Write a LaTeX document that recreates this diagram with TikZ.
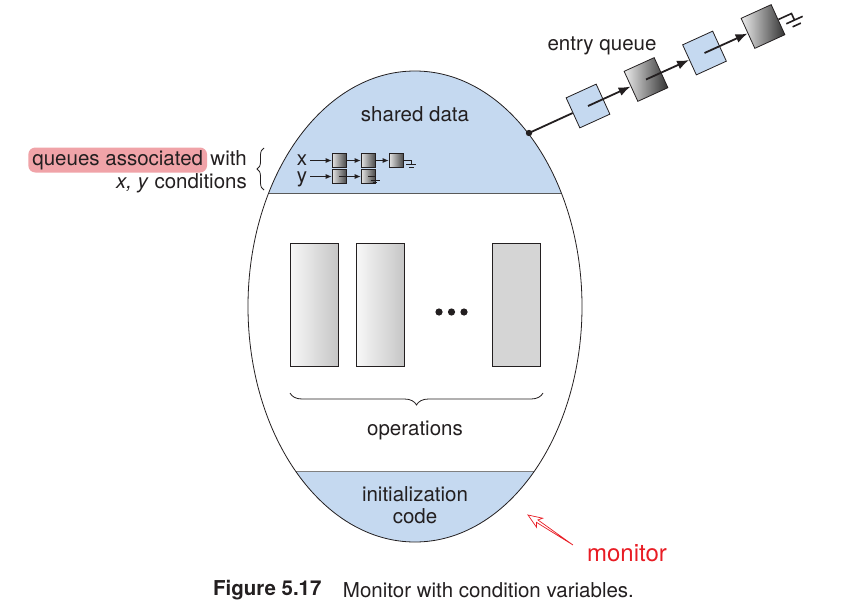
\documentclass[tikz,border=0pt]{standalone}
\usepackage{fontspec}
\setmainfont{TeX Gyre Heros}
\usetikzlibrary{positioning,arrows.meta,decorations.pathreplacing}
\definecolor{monblue}{RGB}{197,217,240}
\definecolor{hlpink}{RGB}{240,163,168}
\definecolor{monred}{RGB}{232,28,36}
\definecolor{inkgray}{RGB}{35,31,32}
\tikzset{
  lbl/.style={text=inkgray,font=\fontsize{20.5}{22}\selectfont,inner sep=0pt},
  opbox/.style={draw=inkgray,line width=0.9pt,minimum width=48pt,minimum height=123pt,inner sep=0pt},
  qbox/.style={draw=inkgray,line width=0.7pt,minimum size=14pt,inner sep=0pt,left color=gray!20,right color=black!70},
  ebox/.style={draw=inkgray,line width=0.8pt,minimum size=33pt,inner sep=0pt,rotate=24.5},
  qarrow/.style={draw=inkgray,line width=0.8pt,-{Latex[length=6pt,width=5pt]}},
  earrow/.style={draw=inkgray,line width=1.8pt,-{Latex[length=12pt,width=9pt]}},
  gnd/.pic={\draw[inkgray] (0,0) -- (8,0) -- (8,4) (3,4) -- (13,4) (5.5,7) -- (10.5,7);}
}
\begin{document}
\begin{tikzpicture}[x=1pt,y=-1pt]
\useasboundingbox (0,0) rectangle (843,613);
% monitor body
\begin{scope}
\clip (415,306.5) ellipse [x radius=167,y radius=235.5];
\fill[monblue] (240,60) rectangle (590,193);
\fill[monblue] (240,471) rectangle (590,550);
\draw[black!65,line width=0.9pt] (240,193) -- (590,193);
\draw[black!50,line width=0.9pt] (240,471) -- (590,471);
\end{scope}
\draw[inkgray,line width=0.8pt] (415,306.5) ellipse [x radius=167,y radius=235.5];
\node[lbl] (shared) at (415,114) {shared data};
\node[lbl] (ops) at (415,430) {operations};
\node[lbl,align=center] (init) at (415,505) {initialization\\code};
% operations
\node[opbox,left color=gray!6,right color=gray!45] (op1) at (314,304.5) {};
\node[opbox,left color=gray!6,right color=gray!45] (op2) at (380.5,304.5) {};
\node[opbox,fill=gray!33] (op3) at (516.5,304.5) {};
\foreach \i in {0,1,2}
  \fill[inkgray] (439+12.5*\i,312) circle (3.6);
\draw[inkgray,line width=0.8pt,decorate,decoration={brace,amplitude=12pt}] (543,393) -- (290,393);
% condition queues
\node[lbl,anchor=base] (xlbl) at (302,165.5) {x};
\node[lbl,anchor=base] (ylbl) at (302,182.5) {y};
\node[qbox] (b1) at (339,160.5) {};
\node[qbox] (b2) at (368,160.5) {};
\node[qbox] (b3) at (396,160.5) {};
\node[qbox] (c1) at (339,176.5) {};
\node[qbox] (c2) at (368,176.5) {};
\draw[qarrow,shorten <=3pt] (xlbl.east |- b1) -- (b1);
\draw[qarrow] (b1) -- (b2);
\draw[qarrow] (b2) -- (b3);
\draw[qarrow,shorten <=3pt] (ylbl.east |- c1) -- (c1);
\draw[qarrow] (c1.center) -- (c2);
\pic[line width=0.7pt] at (b3.east) {gnd};
\pic[line width=0.7pt,scale=0.9] at (c2.center) {gnd};
\node[lbl,anchor=base east] (qwith) at (247,165) {with};
\node[lbl,fill=hlpink,rounded corners=7pt,inner xsep=4pt,inner ysep=3.5pt,text height=14pt,text depth=4pt,
  left=3pt of qwith.base west,anchor=base east] (qassoc) {queues associated};
\node[lbl,anchor=base east] (qcond) at (247,188) {\textit{x, y} conditions};
\draw[inkgray,line width=0.8pt,decorate,decoration={brace,amplitude=7pt}] (264,190) -- (264,148);
% entry queue
\coordinate (door) at (529,133);
\node[ebox,fill=monblue] (e1) at (588,106) {};
\node[ebox,left color=gray!15,right color=black!80] (e2) at (646,79.5) {};
\node[ebox,fill=monblue] (e3) at (704.5,53) {};
\node[ebox,left color=gray!15,right color=black!80] (e4) at (763,26.5) {};
\draw[inkgray,line width=1.8pt] (door) -- (e1);
\fill[inkgray] (door) circle (3.2);
\draw[earrow] (e1.center) -- (e2);
\draw[earrow] (e2.center) -- (e3);
\draw[earrow] (e3.center) -- (e4);
\pic[line width=1.6pt,rotate=24.5,scale=1.8] at (e4.east) {gnd};
\node[lbl] (entrylbl) at (602,46) {entry queue};
% monitor label
\coordinate (montip) at (528,515);
\node[lbl,text=monred,font=\fontsize{24}{28}\selectfont] (monlbl) at (627,553) {monitor};
\begin{scope}[shift={(montip)},rotate=146.3]
\draw[monred,line width=0.7pt] (0,0) -- (-14,5.5) -- (-11,1.4) -- (-54,0) -- (-11,-1.4) -- (-14,-5.5) -- cycle;
\end{scope}
% caption
\node[lbl,anchor=west,font=\fontsize{20.5}{22}\selectfont\bfseries] (fig) at (213,590) {Figure 5.17};
\node[lbl,right=21pt of fig] (capt) {Monitor with condition variables.};
\end{tikzpicture}
\end{document}
